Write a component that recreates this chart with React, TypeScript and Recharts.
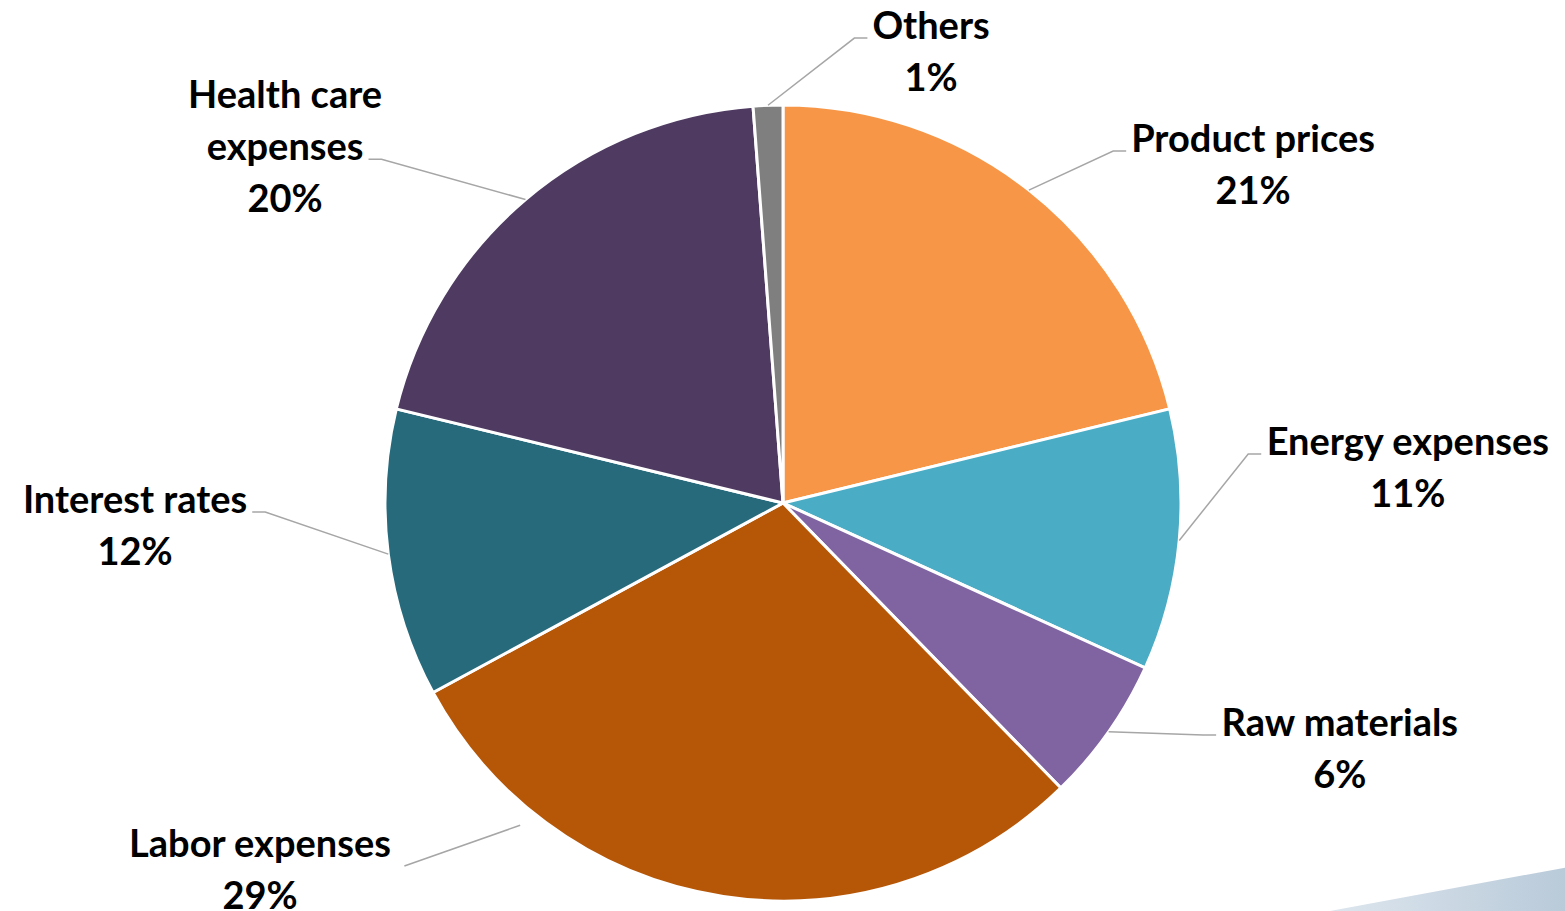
import React from 'react';
import { PieChart, Pie, Cell } from 'recharts';

const categories = [
  'Product prices',
  'Energy expenses',
  'Raw materials',
  'Labor expenses',
  'Interest rates',
  'Health care expenses',
  'Others',
];
const shares = [21.2, 10.6, 5.9, 29.4, 11.7, 20.0, 1.2];
const labelLines = [
  ['Product prices'],
  ['Energy expenses'],
  ['Raw materials'],
  ['Labor expenses'],
  ['Interest rates'],
  ['Health care', 'expenses'],
  ['Others'],
];
const colors = ['#F79646', '#4BACC6', '#8064A2', '#B65708', '#276A7C', '#4F3B62', '#7F7F7F'];

// where each label block sits, relative to the pie centre, in radius units
const labelPlacement: {
  dx: number;
  dy: number;
  anchorAngle?: number;
  anchorR?: number;
  elbow?: number;
  gap?: number;
  drop?: number;
}[] = [
  { dx: 1.181, dy: -0.854 },
  { dx: 1.57, dy: -0.093 },
  { dx: 1.399, dy: 0.613 },
  { dx: -1.314, dy: 0.917, anchorAngle: -129.2, anchorR: 1.045, elbow: 0, gap: 13, drop: 24 },
  { dx: -1.628, dy: 0.053 },
  { dx: -1.251, dy: -0.899 },
  { dx: 0.372, dy: -1.138 },
];

const FONT_SIZE = 38;
const LINE_GAP = 52;
const FONT = 'Lato, "Open Sans", sans-serif';

const data = categories.map((name, i) => ({ name, value: shares[i] }));

let ctx: CanvasRenderingContext2D | null = null;
const textWidth = (s: string) => {
  if (!ctx) ctx = document.createElement('canvas').getContext('2d');
  if (!ctx) return s.length * FONT_SIZE * 0.5;
  ctx.font = `bold ${FONT_SIZE}px Lato`;
  return ctx.measureText(s).width;
};

const renderLabel = (props: any) => {
  const { cx, cy, midAngle, outerRadius, index, percent } = props;
  const RAD = Math.PI / 180;
  const place = labelPlacement[index];
  const lines = [...labelLines[index], `${Math.round(percent * 100)}%`];
  const bx = cx + place.dx * outerRadius;
  const by = cy + place.dy * outerRadius;
  const top = by - ((lines.length - 1) / 2) * LINE_GAP;
  const attach = labelLines[index].length - 1;
  const w = textWidth(lines[attach]);
  const right = bx > cx;
  const gap = place.gap ?? 5;
  const endX = right ? bx - w / 2 - gap : bx + w / 2 + gap;
  const endY = top + attach * LINE_GAP + (place.drop ?? 14);
  const elbow = place.elbow ?? 13;
  const elbowX = right ? endX - elbow : endX + elbow;
  const a = (place.anchorAngle ?? midAngle) * RAD;
  const r = outerRadius * (place.anchorR ?? 1);
  const sx = cx + r * Math.cos(a);
  const sy = cy - r * Math.sin(a);
  return (
    <g key={`lbl-${index}`}>
      <polyline
        points={`${sx},${sy} ${elbowX},${endY} ${endX},${endY}`}
        fill="none"
        stroke="#A6A6A6"
        strokeWidth={1.5}
      />
      {lines.map((t, j) => (
        <text
          key={j}
          x={bx}
          y={top + j * LINE_GAP}
          textAnchor="middle"
          dominantBaseline="central"
          fontFamily={FONT}
          fontWeight={700}
          fontSize={FONT_SIZE}
          fill="#000"
        >
          {t}
        </text>
      ))}
    </g>
  );
};

export default function App() {
  return (
    <div style={{ position: 'absolute', left: 0, top: 0, width: 1565, height: 911, background: '#fff', overflow: 'hidden' }}>
      <div
        style={{
          position: 'absolute',
          left: 1330,
          top: 860,
          width: 235,
          height: 51,
          background: 'linear-gradient(90deg, #dde6ee 0%, #b9cad9 100%)',
          clipPath: 'polygon(0% 100%, 100% 15%, 100% 100%)',
        }}
      />
      <PieChart width={1565} height={911} margin={{ top: 0, right: 0, bottom: 0, left: 0 }}>
        <Pie
          data={data}
          dataKey="value"
          nameKey="name"
          cx={783}
          cy={503}
          outerRadius={398}
          startAngle={90}
          endAngle={-270}
          stroke="#fff"
          strokeWidth={3}
          label={renderLabel}
          labelLine={false}
          isAnimationActive={false}
        >
          {data.map((d, i) => (
            <Cell key={d.name} fill={colors[i]} />
          ))}
        </Pie>
      </PieChart>
    </div>
  );
}
